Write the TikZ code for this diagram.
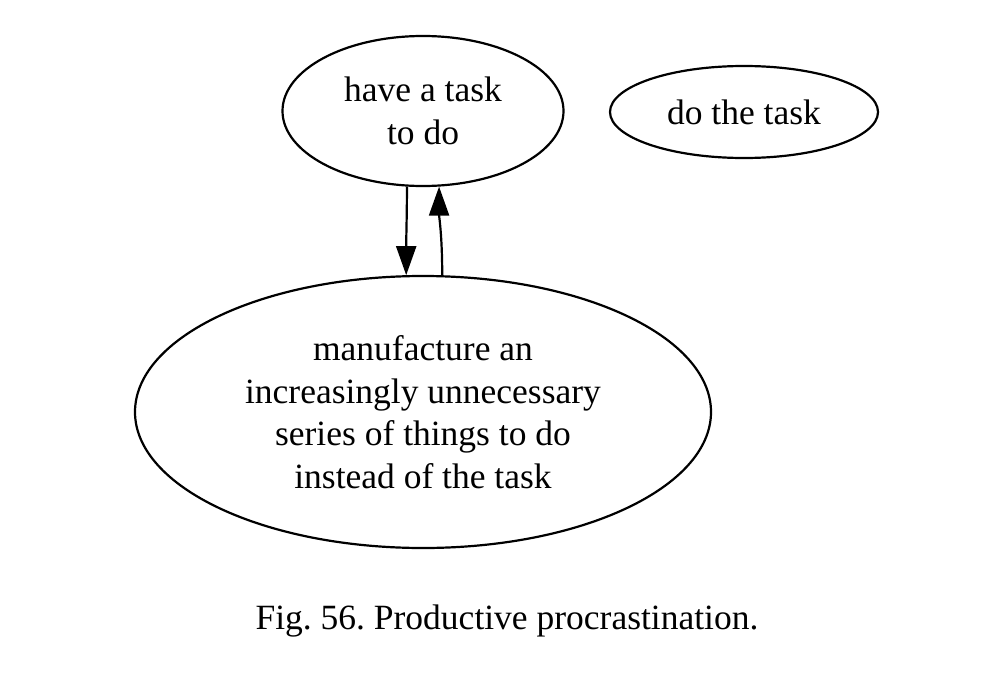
\documentclass[tikz,border=0pt]{standalone}
\usepackage{fontspec}
\setmainfont{Liberation Serif}
\usetikzlibrary{arrows.meta, shapes.geometric, positioning}
\frenchspacing

\begin{document}
\begin{tikzpicture}[x=1pt, y=-1pt,
    state/.style={ellipse, draw=black, line width=2.2pt, inner sep=0pt, align=center,
      font=\fontsize{35.5}{42.5}\selectfont},
    flow/.style={line width=2.2pt, -{Triangle[length=29pt, width=20pt]}}]

      \useasboundingbox (0, 0) rectangle (993, 688);

      \node[state, minimum width=281pt, minimum height=150pt] (task) at (423, 111) {have a task\\to do};
      \node[state, minimum width=268pt, minimum height=92pt] (do) at (744, 112) {do the task};
      \node[state, minimum width=576pt, minimum height=272pt] (manu) at (423, 412)
        {manufacture an\\increasingly unnecessary\\series of things to do\\instead of the task};

      \draw[flow] (task.258.7) .. controls +(0, 30) and +(0, -40) .. (manu.97.1);
      \draw[flow] (manu.82.5) .. controls +(0, -40) and +(0, 30) .. (task.282.2);

      \node[font=\fontsize{35.5}{42.5}\selectfont] (caption) at (507, 621) {Fig. 56. Productive procrastination.};
    \end{tikzpicture}
\end{document}
